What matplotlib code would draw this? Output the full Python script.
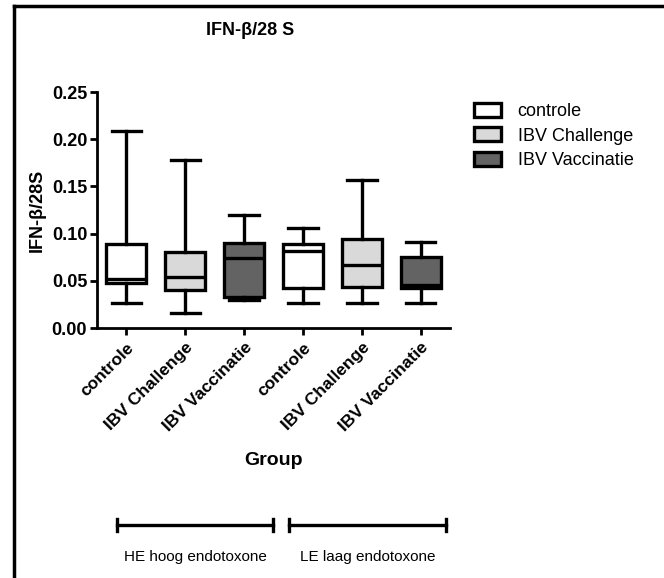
import matplotlib
matplotlib.use("Agg")
import matplotlib.pyplot as plt
from matplotlib.patches import Patch
from matplotlib.lines import Line2D

plt.rcParams['font.family'] = ['Liberation Sans', 'DejaVu Sans']

groups = ["controle", "IBV Challenge", "IBV Vaccinatie",
          "controle", "IBV Challenge", "IBV Vaccinatie"]
whislo = [0.027, 0.016, 0.030, 0.027, 0.027, 0.027]
q1 = [0.0475, 0.040, 0.033, 0.0423, 0.043, 0.0423]
med = [0.052, 0.054, 0.074, 0.0817, 0.0669, 0.0458]
q3 = [0.0891, 0.080, 0.0898, 0.0887, 0.0947, 0.075]
whishi = [0.2085, 0.1785, 0.120, 0.106, 0.1567, 0.0908]
colors = ["white", "#d9d9d9", "#636363", "white", "#d9d9d9", "#636363"]
legend_labels = ["controle", "IBV Challenge", "IBV Vaccinatie"]
yticks = [0.00, 0.05, 0.10, 0.15, 0.20, 0.25]

fig = plt.figure(figsize=(6.64, 5.78), dpi=100)
ax = fig.add_axes([0.146, 0.4325, 0.532, 0.4083])

stats = []
for i in range(len(groups)):
    stats.append(dict(whislo=whislo[i], q1=q1[i], med=med[i], q3=q3[i],
                      whishi=whishi[i], fliers=[]))

lw = 2.4
bp = ax.bxp(stats, positions=range(1, 7), widths=0.68, patch_artist=True,
            showfliers=False,
            boxprops=dict(linewidth=lw, edgecolor="black"),
            medianprops=dict(linewidth=lw, color="black"),
            whiskerprops=dict(linewidth=lw, color="black"),
            capprops=dict(linewidth=lw, color="black"),
            capwidths=0.5)
for patch, c in zip(bp["boxes"], colors):
    patch.set_facecolor(c)

ax.set_xlim(0.5, 6.5)
ax.set_ylim(0, 0.25)
ax.set_yticks(yticks)
ax.set_yticklabels([f"{t:.2f}" for t in yticks], fontsize=13, fontweight="bold")
ax.set_xticks(range(1, 7))
ax.set_xticklabels(groups, rotation=45, ha="right", rotation_mode="anchor",
                   fontsize=12.5, fontweight="bold")
for s in ["top", "right"]:
    ax.spines[s].set_visible(False)
for s in ["left", "bottom"]:
    ax.spines[s].set_linewidth(2)
ax.tick_params(width=2, length=5)
ax.tick_params(axis="y", pad=2)
ax.set_ylabel("IFN-β/28S", fontsize=13, fontweight="bold", labelpad=4)
ax.set_xlabel("Group", fontsize=14, fontweight="bold", labelpad=13)

fig.text(0.377, 0.948, "IFN-β/28 S", ha="center", va="center",
         fontsize=13, fontweight="bold")

handles = [Patch(facecolor=colors[i], edgecolor="black", linewidth=2.4)
           for i in range(3)]
fig.legend(handles, legend_labels, loc="upper left", bbox_to_anchor=(0.69, 0.85),
           frameon=False, fontsize=13, handlelength=1.5, handleheight=0.8,
           labelspacing=0.4, handletextpad=0.9)

# group brackets below
for x0, x1, label in [(117, 273, "HE hoog endotoxone"), (289, 446, "LE laag endotoxone")]:
    y = 1 - 525 / 578
    fx0, fx1 = x0 / 664, x1 / 664
    fig.add_artist(Line2D([fx0, fx1], [y, y], color="black", linewidth=2.4))
    for fx in (fx0, fx1):
        fig.add_artist(Line2D([fx, fx], [y - 0.011, y + 0.011], color="black", linewidth=2.4))
    fig.text((fx0 + fx1) / 2, 1 - 557 / 578, label, ha="center", va="center", fontsize=11)

# outer frame, top and left only
fig.add_artist(Line2D([14 / 664, 1], [1 - 6 / 578, 1 - 6 / 578], color="black", linewidth=2.5))
fig.add_artist(Line2D([14 / 664, 14 / 664], [0, 1 - 6 / 578], color="black", linewidth=2.5))

fig.savefig("out.png", dpi=100)
